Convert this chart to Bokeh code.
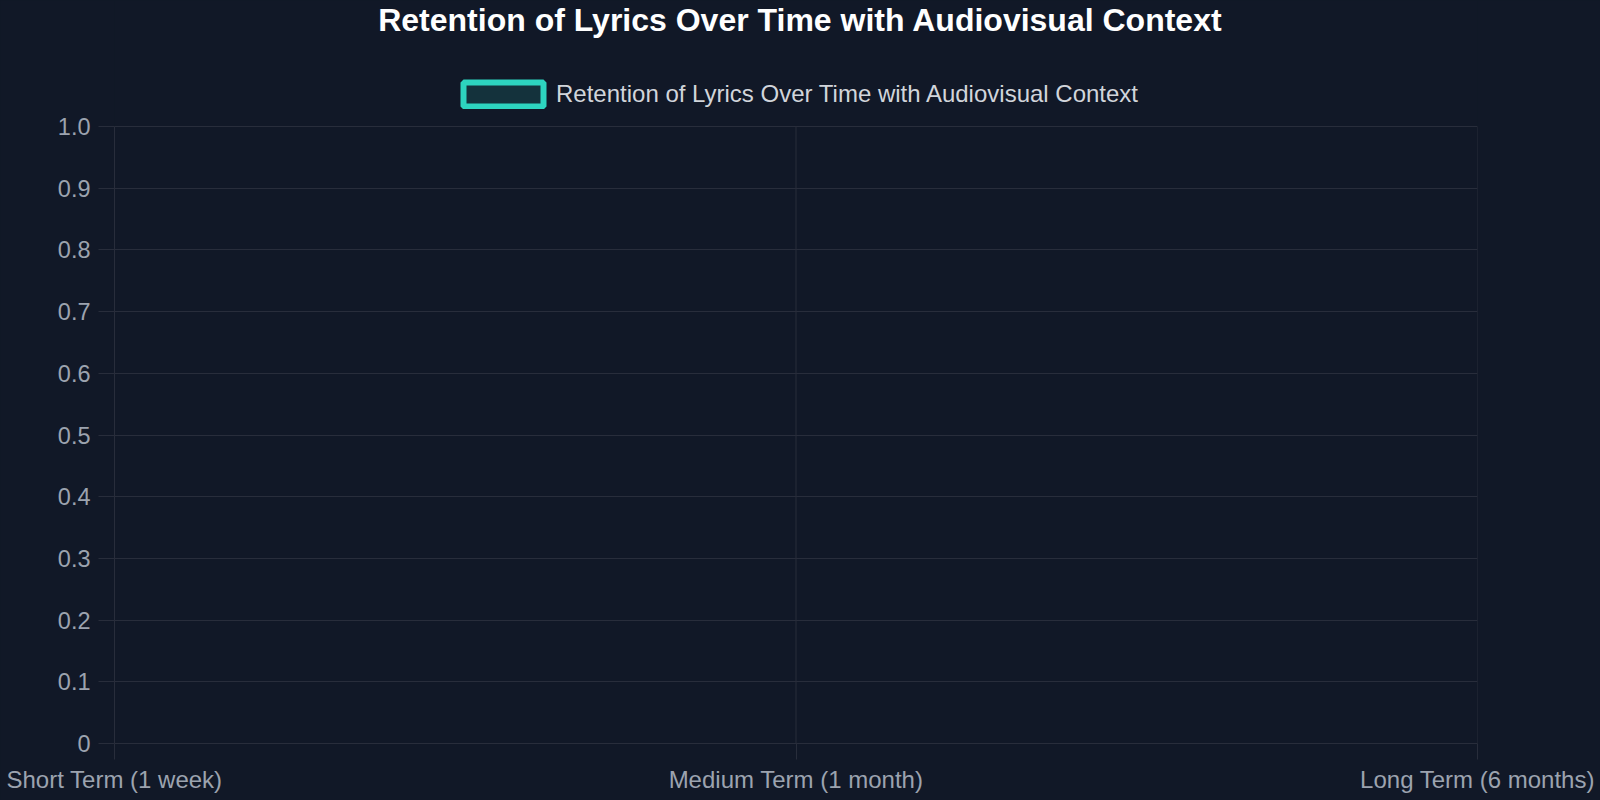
from bokeh.plotting import figure
from bokeh.models import (Range1d, FixedTicker, Legend, LegendItem,
                          ColumnDataSource, Label)
from bokeh.embed import file_html
from bokeh.resources import INLINE

# ---- data ----
categories = ["Short Term (1 week)", "Medium Term (1 month)", "Long Term (6 months)"]
retention = [None, None, None]  # the reference shows no plotted values
y_ticks = [0, 0.1, 0.2, 0.3, 0.4, 0.5, 0.6, 0.7, 0.8, 0.9, 1.0]
y_tick_labels = ["0", "0.1", "0.2", "0.3", "0.4", "0.5", "0.6", "0.7", "0.8", "0.9", "1.0"]
series_name = "Retention of Lyrics Over Time with Audiovisual Context"
chart_title = "Retention of Lyrics Over Time with Audiovisual Context"

positions = list(range(len(categories)))
vals = [float("nan") if v is None else v for v in retention]

# ---- layout (pixels) ----
W, H = 1600, 800
LEFT, RIGHT, BOTTOM = 114, 123, 57
FRAME_H = H - BOTTOM            # frame reaches the top edge of the figure
AXIS_TOP_PX = 126               # where y = 1.0 sits, from the top
y_top = y_ticks[-1] * FRAME_H / (FRAME_H - AXIS_TOP_PX)

BG = "#111827"
GRID = "#282d3b"
TICK = "#9ca3af"
TEAL = "#2dd4bf"
FONT = "Liberation Sans"

p = figure(width=W, height=H,
           x_range=Range1d(positions[0], positions[-1]),
           y_range=Range1d(y_ticks[0], y_top),
           output_backend="svg", toolbar_location=None,
           title_location=None,
           min_border_left=LEFT, min_border_right=RIGHT,
           min_border_top=0, min_border_bottom=BOTTOM)

p.border_fill_color = BG
p.background_fill_color = BG
p.outline_line_color = None

# grids
p.xgrid.visible = False
p.ygrid.ticker = FixedTicker(ticks=y_ticks)
p.ygrid.grid_line_color = GRID
p.ygrid.grid_line_width = 1
vgrid = ColumnDataSource(dict(x=positions,
                              y0=[y_ticks[0]] * len(positions),
                              y1=[y_ticks[-1]] * len(positions)))
p.segment(x0="x", y0="y0", x1="x", y1="y1", source=vgrid,
          line_color=GRID, line_width=1)

# axes
p.xaxis.ticker = FixedTicker(ticks=positions)
p.xaxis.major_label_overrides = {pos: lab for pos, lab in zip(positions, categories)}
p.yaxis.ticker = FixedTicker(ticks=y_ticks)
p.yaxis.major_label_overrides = {t: lab for t, lab in zip(y_ticks, y_tick_labels)}
p.yaxis.bounds = (y_ticks[0], y_ticks[-1])
for ax in (p.xaxis, p.yaxis):
    ax.axis_line_color = GRID
    ax.major_tick_line_color = GRID
    ax.minor_tick_line_color = None
    ax.major_tick_in = 0
    ax.major_tick_out = 16
    ax.major_label_text_color = TICK
    ax.major_label_text_font = FONT
p.xaxis.major_label_text_font_size = "24px"
p.yaxis.major_label_text_font_size = "23.5px"
p.xaxis.major_label_standoff = 6
p.yaxis.major_label_standoff = 8

# data
src = ColumnDataSource(dict(x=positions, y=vals))
area = p.patch("x", "y", source=src, fill_color=TEAL, fill_alpha=0.14,
               line_color=TEAL, line_width=6)
line = p.line("x", "y", source=src, line_color=TEAL, line_width=3)

# legend (above the y = 1.0 line)
legend = Legend(items=[LegendItem(label=series_name, renderers=[area])],
                location=(453 - LEFT, FRAME_H - 109), orientation="horizontal",
                glyph_width=100, glyph_height=30,
                padding=0, margin=0, spacing=0, label_standoff=3,
                label_height=30,
                label_text_font=FONT, label_text_font_size="24px",
                label_text_color="#d1d5db",
                background_fill_alpha=0, border_line_alpha=0)
p.add_layout(legend, "center")

# title
title = Label(x=W / 2 - LEFT, y=FRAME_H - 19, x_units="screen", y_units="screen",
              text=chart_title, text_align="center", text_baseline="alphabetic",
              text_font=FONT, text_font_style="bold", text_font_size="32px",
              text_color="#ffffff")
p.add_layout(title)

html = file_html(p, INLINE)
html = html.replace("<head>", "<head><style>html, body { background: %s; }</style>" % BG, 1)
open("out.html", "w").write(html)
